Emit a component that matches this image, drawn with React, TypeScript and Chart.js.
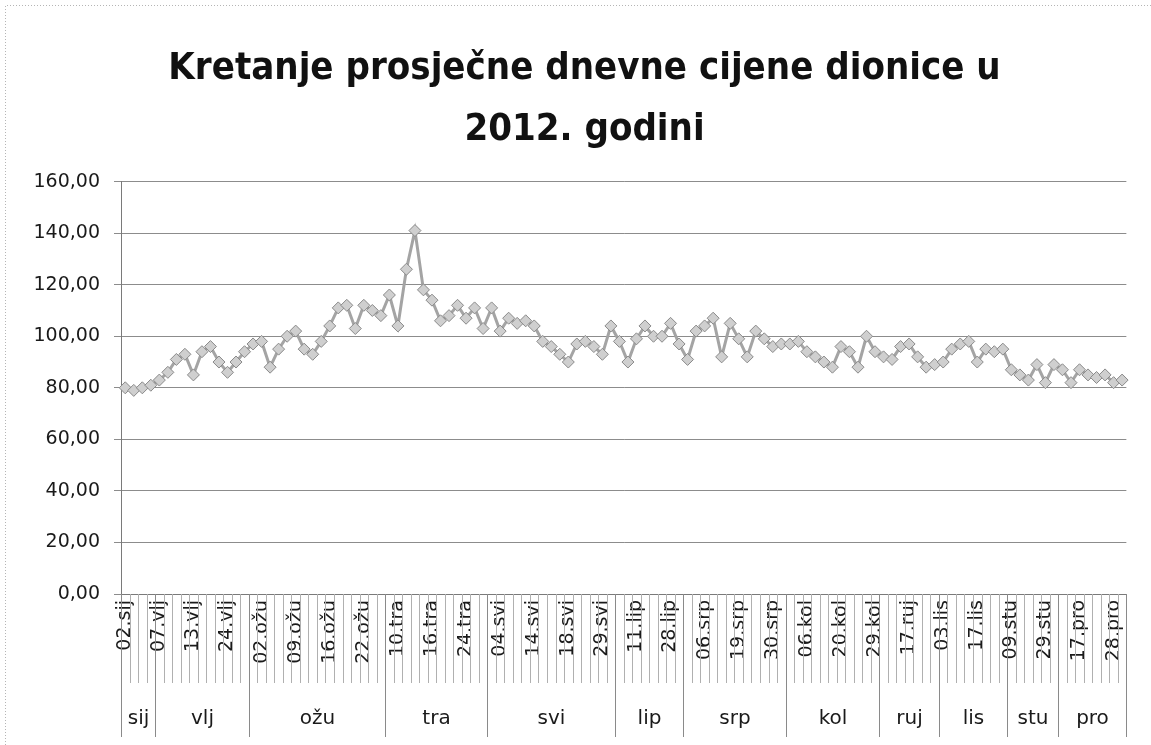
import React, { useEffect, useRef } from 'react';
import { Chart, registerables } from 'chart.js';

Chart.register(...registerables);

const TITLE_LINES = ['Kretanje prosječne dnevne cijene dionice u', '2012. godini'];

const dates = [
  '02.sij', '11.sij', '19.sij', '27.sij',
  '07.vlj', '08.vlj', '09.vlj', '10.vlj', '13.vlj', '15.vlj', '17.vlj', '21.vlj', '24.vlj', '27.vlj', '29.vlj',
  '01.ožu', '02.ožu', '05.ožu', '07.ožu', '08.ožu', '09.ožu', '12.ožu', '13.ožu', '15.ožu', '16.ožu', '19.ožu', '20.ožu', '21.ožu', '22.ožu', '26.ožu', '29.ožu',
  '04.tra', '10.tra', '11.tra', '12.tra', '13.tra', '16.tra', '17.tra', '19.tra', '20.tra', '24.tra', '25.tra', '27.tra',
  '03.svi', '04.svi', '08.svi', '10.svi', '11.svi', '14.svi', '15.svi', '16.svi', '17.svi', '18.svi', '21.svi', '23.svi', '25.svi', '29.svi', '31.svi',
  '05.lip', '08.lip', '11.lip', '14.lip', '18.lip', '21.lip', '28.lip', '29.lip',
  '02.srp', '04.srp', '06.srp', '10.srp', '12.srp', '17.srp', '19.srp', '20.srp', '24.srp', '26.srp', '30.srp', '31.srp',
  '01.kol', '03.kol', '06.kol', '07.kol', '09.kol', '14.kol', '20.kol', '21.kol', '23.kol', '27.kol', '29.kol',
  '03.ruj', '07.ruj', '12.ruj', '17.ruj', '21.ruj', '26.ruj', '28.ruj',
  '03.lis', '05.lis', '10.lis', '15.lis', '17.lis', '22.lis', '26.lis', '30.lis',
  '09.stu', '14.stu', '20.stu', '26.stu', '29.stu', '30.stu',
  '05.pro', '10.pro', '17.pro', '18.pro', '19.pro', '20.pro', '28.pro', '31.pro',
];

const prices = [
  80, 79, 80, 81,
  83, 86, 91, 93, 85, 94, 96, 90, 86, 90, 94,
  97, 98, 88, 95, 100, 102, 95, 93, 98, 104, 111, 112, 103, 112, 110, 108,
  116, 104, 126, 141, 118, 114, 106, 108, 112, 107, 111, 103,
  111, 102, 107, 105, 106, 104, 98, 96, 93, 90, 97, 98, 96, 93, 104,
  98, 90, 99, 104, 100, 100, 105, 97,
  91, 102, 104, 107, 92, 105, 99, 92, 102, 99, 96, 97,
  97, 98, 94, 92, 90, 88, 96, 94, 88, 100, 94,
  92, 91, 96, 97, 92, 88, 89,
  90, 95, 97, 98, 90, 95, 94, 95,
  87, 85, 83, 89, 82, 89,
  87, 82, 87, 85, 84, 85, 82, 83,
];

const monthNames = ['sij', 'vlj', 'ožu', 'tra', 'svi', 'lip', 'srp', 'kol', 'ruj', 'lis', 'stu', 'pro'];
const monthCounts = [4, 11, 16, 12, 15, 8, 12, 11, 7, 8, 6, 8];

const Y_MIN = 0;
const Y_MAX = 160;
const Y_STEP = 20;
const LABEL_EVERY = 4;

const FONT = '"DejaVu Sans", "Noto Sans", sans-serif';
const TITLE_FONT = '"Liberation Sans Narrow", "DejaVu Sans Condensed", "Open Sans", sans-serif';

const DATE_ROW = 89;
const MONTH_ROW = 54;
const TITLE_LEFT = 40;

const decorPlugin = {
  id: 'decor',
  afterLayout(chart: any) {
    const t = chart.titleBlock;
    if (t) {
      t.left = TITLE_LEFT;
      t.width = t.right - t.left;
    }
  },
  beforeDraw(chart: any) {
    const { ctx, width, height } = chart;
    ctx.save();
    ctx.fillStyle = '#ffffff';
    ctx.fillRect(0, 0, width, height);
    ctx.strokeStyle = '#b5b5b5';
    ctx.lineWidth = 1;
    ctx.setLineDash([1, 2]);
    ctx.beginPath();
    ctx.moveTo(5.5, height);
    ctx.lineTo(5.5, 5.5);
    ctx.lineTo(width, 5.5);
    ctx.stroke();
    ctx.restore();
  },
  afterDraw(chart: any) {
    const { ctx, chartArea, scales } = chart;
    const xs = scales.x;
    const n = dates.length;
    const pitch = xs.getPixelForValue(1) - xs.getPixelForValue(0);
    const bottom = chartArea.bottom;
    const rowEnd = bottom + DATE_ROW;
    const monthEnd = rowEnd + MONTH_ROW;
    ctx.save();
    ctx.lineWidth = 1;
    ctx.strokeStyle = '#b0b0b0';
    for (let i = 0; i <= n; i++) {
      const x = Math.round(xs.getPixelForValue(i) - pitch / 2) + 0.5;
      ctx.beginPath();
      ctx.moveTo(x, bottom);
      ctx.lineTo(x, rowEnd);
      ctx.stroke();
    }
    ctx.strokeStyle = '#8a8a8a';
    ctx.font = '20px ' + FONT;
    ctx.fillStyle = '#1a1a1a';
    ctx.textAlign = 'center';
    ctx.textBaseline = 'middle';
    let s = 0;
    for (let m = 0; m < monthNames.length; m++) {
      const e = s + monthCounts[m] - 1;
      const l = Math.round(xs.getPixelForValue(s) - pitch / 2) + 0.5;
      const r = Math.round(xs.getPixelForValue(e) + pitch / 2) + 0.5;
      ctx.beginPath();
      ctx.moveTo(l, bottom);
      ctx.lineTo(l, monthEnd);
      ctx.stroke();
      if (m === monthNames.length - 1) {
        ctx.beginPath();
        ctx.moveTo(r, bottom);
        ctx.lineTo(r, monthEnd);
        ctx.stroke();
      }
      ctx.fillText(monthNames[m], (l + r) / 2, rowEnd + 36);
      s = e + 1;
    }
    ctx.restore();
  },
};

export default function App() {
  const ref = useRef<HTMLCanvasElement | null>(null);
  useEffect(() => {
    if (!ref.current) return;
    const chart = new Chart(ref.current, {
      type: 'line',
      data: {
        labels: dates,
        datasets: [
          {
            label: 'Cijena',
            data: prices,
            borderColor: '#a4a4a4',
            borderWidth: 3,
            pointStyle: 'rectRot',
            pointRadius: 6,
            pointBackgroundColor: '#cfcfcf',
            pointBorderColor: '#8a8a8a',
            pointBorderWidth: 1,
            tension: 0,
            fill: false,
          },
        ],
      },
      options: {
        responsive: false,
        animation: false,
        layout: { padding: { left: 0, right: 22, top: 0, bottom: 0 } },
        plugins: {
          legend: { display: false },
          tooltip: { enabled: false },
          title: {
            display: true,
            text: TITLE_LINES,
            color: '#111',
            font: { family: TITLE_FONT, size: 38, weight: 'bold', lineHeight: 1.6 },
            padding: { top: 39, bottom: 21 },
          },
        },
        scales: {
          x: {
            type: 'category',
            offset: true,
            grid: { display: false, drawTicks: false },
            border: { display: true, color: '#7a7a7a' },
            ticks: {
              autoSkip: false,
              minRotation: 90,
              maxRotation: 90,
              padding: 6,
              color: '#1a1a1a',
              font: { family: FONT, size: 19 },
              callback: (_v: any, i: number) => (i % LABEL_EVERY === 0 ? dates[i] : ''),
            },
            afterFit: (scale: any) => {
              scale.height = DATE_ROW + MONTH_ROW + 8;
            },
          },
          y: {
            min: Y_MIN,
            max: Y_MAX,
            grid: { color: '#8c8c8c', lineWidth: 1, tickLength: 7 },
            border: { display: true, color: '#7a7a7a' },
            ticks: {
              stepSize: Y_STEP,
              padding: 14,
              color: '#1a1a1a',
              font: { family: FONT, size: 19 },
              callback: (v: any) => Number(v).toFixed(2).replace('.', ','),
            },
            afterFit: (scale: any) => {
              scale.width = 121;
            },
          },
        },
      },
      plugins: [decorPlugin],
    });
    return () => chart.destroy();
  }, []);
  return (
    <div style={{ position: 'absolute', left: 0, top: 0, width: 1151, height: 745 }}>
      <canvas ref={ref} width={1151} height={745} />
    </div>
  );
}
